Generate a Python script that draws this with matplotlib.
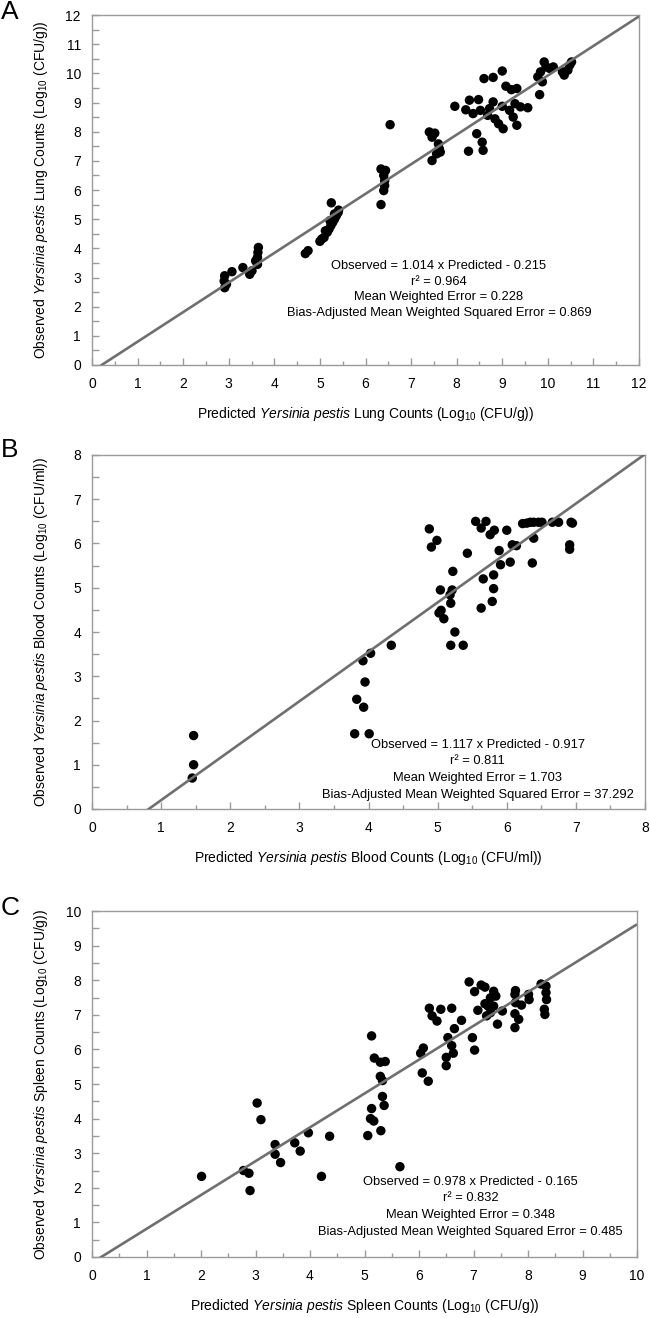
import matplotlib
matplotlib.use("Agg")
import matplotlib.pyplot as plt
import numpy as np
from matplotlib.ticker import MultipleLocator

plt.rcParams['font.family'] = ['Liberation Sans', 'DejaVu Sans']
plt.rcParams['mathtext.fontset'] = 'custom'
plt.rcParams['mathtext.rm'] = 'Liberation Sans'
plt.rcParams['mathtext.it'] = 'Liberation Sans:italic'
plt.rcParams['mathtext.bf'] = 'Liberation Sans:bold'

# ---------------- Data ----------------
# Panel A: lung
a_pred = [2.91, 2.90, 2.91, 2.95, 3.07, 3.31, 3.46, 3.51, 3.63, 3.63, 3.64, 3.65, 3.59,
          4.68, 4.74, 5.00, 5.04, 5.09, 5.16, 5.20, 5.24, 5.28, 5.32, 5.36, 5.40, 5.41, 5.12, 5.22, 5.32, 5.25,
          6.34, 6.44, 6.40, 6.42, 6.42, 6.40, 6.34, 6.54,
          7.40, 7.52, 7.46, 7.60, 7.62, 7.56, 7.46, 7.64,
          7.96, 8.28, 8.48, 8.20, 8.36, 8.60, 8.80, 9.00, 9.08, 9.32, 9.20, 8.44, 8.56, 8.58, 8.26,
          8.80, 8.72, 8.68, 8.84, 8.92, 9.02, 9.32, 9.24, 9.16, 9.40, 9.56, 9.00, 8.52, 9.28,
          9.82, 9.88, 9.78, 9.92, 9.96, 10.04, 10.12, 9.84, 10.36, 10.44, 10.48, 10.52, 10.32]
a_obs = [3.06, 2.88, 2.65, 2.77, 3.20, 3.34, 3.11, 3.23, 3.45, 3.69, 3.86, 4.03, 3.57,
         3.82, 3.92, 4.24, 4.32, 4.37, 4.55, 4.66, 4.78, 4.89, 5.00, 5.12, 5.23, 5.31, 4.60, 4.95, 5.18, 5.56,
         6.72, 6.67, 6.50, 6.32, 6.15, 5.98, 5.50, 8.24,
         7.99, 7.95, 7.81, 7.58, 7.41, 7.24, 7.01, 7.30,
         8.87, 9.08, 9.10, 8.75, 8.62, 9.82, 9.86, 10.08, 9.56, 9.48, 9.44, 7.93, 7.64, 7.36, 7.33,
         9.02, 8.79, 8.56, 8.44, 8.27, 8.10, 8.22, 8.50, 8.73, 8.85, 8.82, 8.87, 8.73, 8.96,
         9.27, 9.71, 9.88, 10.39, 10.22, 10.17, 10.22, 10.05, 9.94, 10.11, 10.28, 10.39, 10.05]

# Panel B: blood
b_pred = [1.47, 1.47, 1.45, 3.80, 4.01, 3.83, 3.93, 3.95, 3.92, 4.03, 4.33,
          4.88, 4.99, 4.91, 5.43, 5.04, 5.22, 5.18, 5.21, 5.19, 5.02, 5.05, 5.09, 5.25, 5.19, 5.37,
          5.55, 5.70, 5.63, 5.76, 5.82, 6.00, 5.66, 5.81, 5.81, 5.79, 5.63, 5.89, 5.91, 6.05, 6.08, 6.14, 6.37, 6.39,
          6.23, 6.29, 6.34, 6.39, 6.46, 6.51, 6.66, 6.75, 6.93, 6.95, 6.91, 6.91]
b_obs = [1.66, 1.00, 0.70, 1.70, 1.70, 2.48, 2.30, 2.87, 3.35, 3.52, 3.70,
         6.33, 6.07, 5.92, 5.78, 4.95, 5.37, 4.84, 4.95, 4.65, 4.43, 4.49, 4.30, 4.00, 3.70, 3.70,
         6.50, 6.50, 6.35, 6.20, 6.30, 6.30, 5.20, 5.29, 4.98, 4.69, 4.54, 5.84, 5.52, 5.58, 5.97, 5.95, 5.56, 6.12,
         6.45, 6.46, 6.48, 6.48, 6.48, 6.48, 6.48, 6.48, 6.48, 6.46, 5.97, 5.87]

# Panel C: spleen
c_pred = [2.01, 2.78, 2.88, 2.90, 3.03, 3.10, 3.36, 3.36, 3.46, 3.72, 3.82, 3.97, 4.21, 4.36,
          5.06, 5.13, 5.18, 5.29, 5.38, 5.29, 5.33, 5.33, 5.36, 5.13, 5.11, 5.17, 5.30, 5.65,
          6.03, 6.08, 6.06, 6.17, 6.19, 6.24, 6.33, 6.40, 6.60, 6.78, 6.65, 6.53, 6.60, 6.63, 6.50, 6.50, 6.98, 7.02,
          6.92, 7.02, 7.14, 7.21, 7.08, 7.21, 7.24, 7.31, 7.37, 7.41, 7.37, 7.44, 7.53, 7.31, 7.76,
          7.77, 7.88, 7.76, 7.83, 7.76, 8.01, 8.02, 8.24, 8.33, 8.33, 8.34, 8.30, 8.31, 7.77, 7.27]
c_obs = [2.33, 2.50, 2.42, 1.92, 4.45, 3.97, 3.25, 2.97, 2.73, 3.30, 3.06, 3.59, 2.33, 3.49,
         3.51, 6.39, 5.75, 5.63, 5.65, 5.22, 5.10, 4.64, 4.38, 4.29, 4.00, 3.93, 3.65, 2.61,
         5.89, 6.04, 5.32, 5.08, 7.19, 6.97, 6.82, 7.16, 7.19, 6.84, 6.60, 6.34, 6.11, 5.89, 5.77, 5.53, 6.34, 5.98,
         7.95, 7.67, 7.86, 7.80, 7.13, 7.32, 6.97, 7.49, 7.68, 7.54, 7.25, 6.73, 7.11, 7.06, 7.59,
         7.35, 7.28, 7.03, 6.87, 6.63, 7.59, 7.44, 7.89, 7.83, 7.64, 7.44, 7.16, 7.01, 7.70, 7.25]

# Regression fits (slope, intercept) and statistics
fit_slopes = [1.014, 1.117, 0.978]
fit_intercepts = [-0.215, -0.917, -0.165]
r2_values = ["0.964", "0.811", "0.832"]
mwe_values = ["0.228", "1.703", "0.348"]
bamwse_values = ["0.869", "37.292", "0.485"]

axis_max = [12, 8, 10]
panel_letters = ["A", "B", "C"]
organs = ["Lung", "Blood", "Spleen"]
units = ["CFU/g", "CFU/ml", "CFU/g"]

# ---------------- Layout ----------------
W, H = 650, 1318
fig = plt.figure(figsize=(W / 100, H / 100), dpi=100)

# pixel boxes: left, right, top, bottom
boxes = [(92, 639, 15, 365), (92, 645, 455, 809), (92, 637, 911, 1257)]
letter_pos = [(1, 0), (1, 438), (1, 896)]
# annotation centre (data coords) and line step (data units)
ann_center = [(7.61, 3.40, 0.54), (5.58, 1.45, 0.375), (6.95, 2.18, 0.485)]

grey = '#9a9a9a'
line_col = '#6f6f6f'

datasets = [(a_pred, a_obs), (b_pred, b_obs), (c_pred, c_obs)]

for i in range(3):
    l, r, t, b = boxes[i]
    ax = fig.add_axes([l / W, 1 - b / H, (r - l) / W, (b - t) / H])
    xm = axis_max[i]
    ax.set_xlim(0, xm)
    ax.set_ylim(0, xm)
    pred, obs = datasets[i]
    ax.scatter(pred, obs, s=46, color='black', edgecolors='none', zorder=3)
    xs = np.array([0, xm], dtype=float)
    ax.plot(xs, fit_slopes[i] * xs + fit_intercepts[i], color=line_col, lw=1.9, zorder=4,
            solid_capstyle='butt')

    for sp in ax.spines.values():
        sp.set_color(grey)
        sp.set_linewidth(1.0)
    ax.xaxis.set_major_locator(MultipleLocator(1))
    ax.yaxis.set_major_locator(MultipleLocator(1))
    ax.xaxis.set_minor_locator(MultipleLocator(0.5))
    ax.yaxis.set_minor_locator(MultipleLocator(0.5))
    ax.tick_params(axis='x', which='major', direction='in', length=5, width=1, color=grey,
                   labelsize=10, pad=9)
    ax.tick_params(axis='x', which='minor', direction='in', length=3, width=1, color=grey)
    ax.tick_params(axis='y', which='major', direction='in', length=5, width=1, color=grey,
                   labelsize=10, pad=8)
    ax.tick_params(axis='y', which='minor', direction='in', length=5, width=1, color=grey)

    hpx = b - t
    wpx = r - l
    ax.set_xlabel(r'Predicted $\mathit{Yersinia\ pestis}$ ' + organs[i] +
                  r' Counts (Log$_{10}$ (' + units[i] + '))', fontsize=10)
    ax.set_ylabel(r'Observed $\mathit{Yersinia\ pestis}$ ' + organs[i] +
                  r' Counts (Log$_{10}$ (' + units[i] + '))', fontsize=10)
    ax.xaxis.set_label_coords(0.5, -40 / hpx)
    ax.yaxis.set_label_coords(-42 / wpx, 0.5)

    cx, cy, step = ann_center[i]
    lines = [f"Observed = {fit_slopes[i]:.3f} x Predicted - {abs(fit_intercepts[i]):.3f}",
             f"r\u00b2 = {r2_values[i]}",
             f"Mean Weighted Error = {mwe_values[i]}",
             f"Bias-Adjusted Mean Weighted Squared Error = {bamwse_values[i]}"]
    for k, txt in enumerate(lines):
        ax.text(cx, cy - k * step, txt, ha='center', va='center', fontsize=9.3, zorder=5)

    lx, ly = letter_pos[i]
    fig.text(lx / W, 1 - ly / H, panel_letters[i], fontsize=19, ha='left', va='top')

fig.savefig('out.png', dpi=100, facecolor='white')
